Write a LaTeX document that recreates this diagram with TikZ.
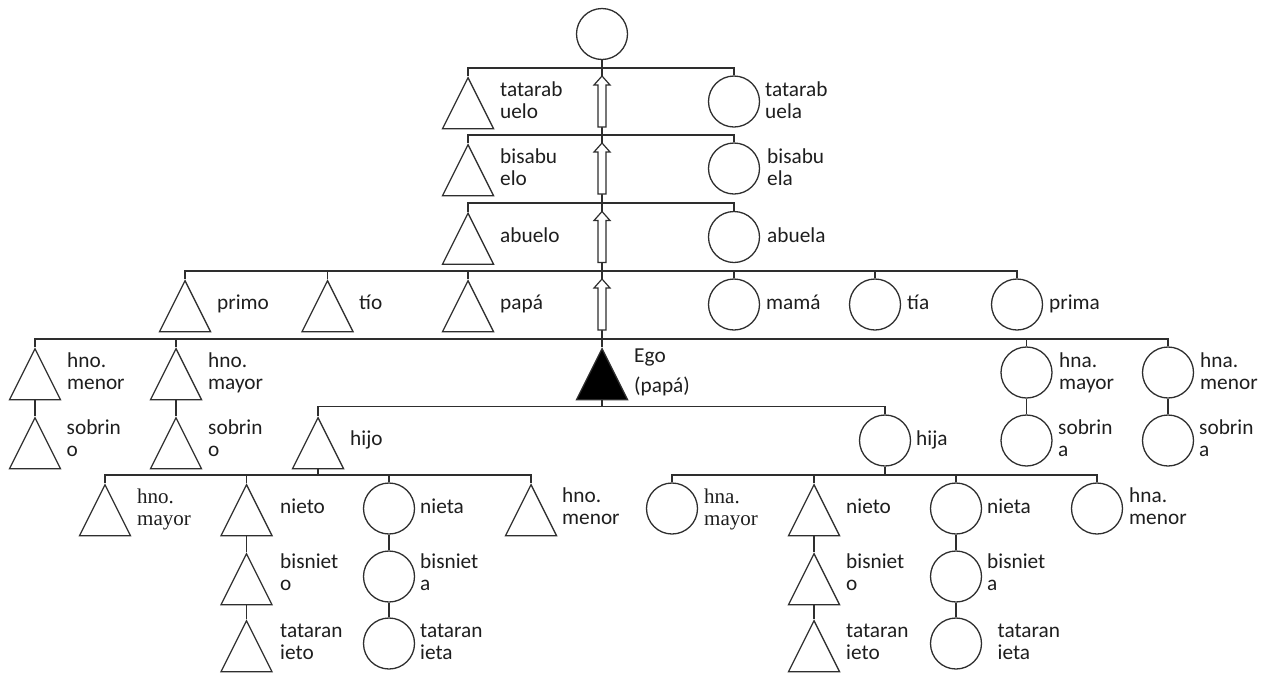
\documentclass[tikz,border=0pt]{standalone}
\usepackage{fontspec}
\setmainfont{Carlito}
\newfontfamily\tmsfont{Liberation Serif}
\usetikzlibrary{shapes.geometric,calc}
\definecolor{ln}{HTML}{2E2E2E}
\definecolor{txt}{HTML}{1E1E1E}
\newcommand{\twol}[2]{\begin{tabular}[t]{@{}l@{}}#1\\#2\end{tabular}}
\newcommand{\uparr}[2]{\draw[hollow] ($(#2)+(4,0)$) -- ($(#1)+(4,9)$) -- ($(#1)+(8,9)$) -- (#1) -- ($(#1)+(-8,9)$) -- ($(#1)+(-4,9)$) -- ($(#2)+(-4,0)$) -- cycle;}
\begin{document}
\begin{tikzpicture}[x=1pt,y=-1pt,
  tri/.style={isosceles triangle, isosceles triangle stretches, shape border rotate=90,
    draw=ln, line width=1.3pt, minimum width=51pt, minimum height=51pt, inner sep=0pt, anchor=apex},
  circ/.style={circle, draw=ln, line width=1.3pt, minimum size=51pt, inner sep=0pt},
  conn/.style={draw=ln, line width=1.3pt},
  hollow/.style={draw=ln, fill=white, line width=1.2pt, line join=miter},
  lab/.style={anchor=base west, inner sep=0pt, text=txt, font=\fontsize{21.3}{22}\selectfont},
  tlab/.style={lab, font=\tmsfont\fontsize{21}{22}\selectfont}]
\useasboundingbox (0,0) rectangle (1273,673);

% junction coordinates
\coordinate (j1) at (602,68);
\coordinate (j2) at (602,135);
\coordinate (j3) at (602,203);
\coordinate (j4) at (602,271);
\coordinate (j5) at (602,339);
\coordinate (j6) at (602,406.5);
\coordinate (j7) at (318,475);
\coordinate (j8) at (885,475);
\coordinate (a1t) at (602,76);   \coordinate (a1b) at (602,127);
\coordinate (a2t) at (602,143);  \coordinate (a2b) at (602,194);
\coordinate (a3t) at (602,211.5);\coordinate (a3b) at (602,262.5);
\coordinate (a4t) at (602,279);  \coordinate (a4b) at (602,330);

% people
\node[circ] (top) at (602,34) {};
\node[tri] (tatarabuelo) at (468,76) {};
\node[circ] (tatarabuela) at (734,101.5) {};
\node[tri] (bisabuelo) at (468,143) {};
\node[circ] (bisabuela) at (734,168.5) {};
\node[tri] (abuelo) at (468,211.5) {};
\node[circ] (abuela) at (734,237) {};
\node[tri] (primo) at (185,279) {};
\node[tri] (tio) at (327.5,279) {};
\node[tri] (papa) at (468,279) {};
\node[circ] (mama) at (734,304.5) {};
\node[circ] (tia) at (875,304.5) {};
\node[circ] (prima) at (1017,304.5) {};
\node[tri] (hnomenorL) at (35,347) {};
\node[tri] (hnomayorL) at (176,347) {};
\node[tri, fill=black] (ego) at (602,347) {};
\node[circ] (hnamayorR) at (1026.5,372.5) {};
\node[circ] (hnamenorR) at (1168,372.5) {};
\node[tri] (sobrinoL1) at (35,416) {};
\node[tri] (sobrinoL2) at (176,416) {};
\node[tri] (hijo) at (318,416) {};
\node[circ] (hija) at (885,440.5) {};
\node[circ] (sobrinaR1) at (1026.5,440.5) {};
\node[circ] (sobrinaR2) at (1168,440.5) {};
\node[tri] (hmayorH) at (105,483) {};
\node[tri] (nietoH) at (246.5,483) {};
\node[circ] (nietaH) at (389,508.5) {};
\node[tri] (hmenorH) at (531,483) {};
\node[tri] (bisnietoH) at (246.5,552) {};
\node[circ] (bisnietaH) at (389,576.5) {};
\node[tri] (tataranietoH) at (246.5,619) {};
\node[circ] (tataranietaH) at (389,643.5) {};
\node[circ] (hmayorJ) at (672,508.5) {};
\node[tri] (nietoJ) at (814,483) {};
\node[circ] (nietaJ) at (956,508.5) {};
\node[circ] (hmenorJ) at (1097,508.5) {};
\node[tri] (bisnietoJ) at (814,552) {};
\node[circ] (bisnietaJ) at (956,576.5) {};
\node[tri] (tataranietoJ) at (814,619) {};
\node[circ] (tataranietaJ) at (956,643.5) {};

% connectors: ascending line
\draw[conn] (top.south) -- (j1) -- (a1t);
\draw[conn] (a1b) -- (j2) -- (a2t);
\draw[conn] (a2b) -- (j3) -- (a3t);
\draw[conn] (a3b) -- (j4) -- (a4t);
\draw[conn] (a4b) -- (j5) -- (ego.apex);
\uparr{a1t}{a1b}
\uparr{a2t}{a2b}
\uparr{a3t}{a3b}
\uparr{a4t}{a4b}

% generation bars
\draw[conn] (tatarabuelo.apex) |- (j1) -| (tatarabuela.north);
\draw[conn] (bisabuelo.apex) |- (j2) -| (bisabuela.north);
\draw[conn] (abuelo.apex) |- (j3) -| (abuela.north);
\draw[conn] (primo.apex) |- (j4) -| (prima.north);
\draw[conn] (tio.apex) -- (tio.apex |- j4);
\draw[conn] (papa.apex) -- (papa.apex |- j4);
\draw[conn] (mama.north) -- (mama.north |- j4);
\draw[conn] (tia.north) -- (tia.north |- j4);
\draw[conn] (hnomenorL.apex) |- (j5) -| (hnamenorR.north);
\draw[conn] (hnomayorL.apex) -- (hnomayorL.apex |- j5);
\draw[conn] (hnamayorR.north) -- (hnamayorR.north |- j5);
\draw[conn] (hnomenorL.lower side) -- (sobrinoL1.apex);
\draw[conn] (hnomayorL.lower side) -- (sobrinoL2.apex);
\draw[conn] (hnamayorR.south) -- (sobrinaR1.north);
\draw[conn] (hnamenorR.south) -- (sobrinaR2.north);
\draw[conn] (ego.lower side) -- (j6);
\draw[conn] (hijo.apex) |- (j6) -| (hija.north);
\draw[conn] (hijo.lower side) -- (j7);
\draw[conn] (hmayorH.apex) |- (j7) -| (hmenorH.apex);
\draw[conn] (nietoH.apex) -- (nietoH.apex |- j7);
\draw[conn] (nietaH.north) -- (nietaH.north |- j7);
\draw[conn] (hija.south) -- (j8);
\draw[conn] (hmayorJ.north) |- (j8) -| (hmenorJ.north);
\draw[conn] (nietoJ.apex) -- (nietoJ.apex |- j8);
\draw[conn] (nietaJ.north) -- (nietaJ.north |- j8);
\draw[conn] (nietoH.lower side) -- (bisnietoH.apex);
\draw[conn] (bisnietoH.lower side) -- (tataranietoH.apex);
\draw[conn] (nietaH.south) -- (bisnietaH.north);
\draw[conn] (bisnietaH.south) -- (tataranietaH.north);
\draw[conn] (nietoJ.lower side) -- (bisnietoJ.apex);
\draw[conn] (bisnietoJ.lower side) -- (tataranietoJ.apex);
\draw[conn] (nietaJ.south) -- (bisnietaJ.north);
\draw[conn] (bisnietaJ.south) -- (tataranietaJ.north);

% labels
\node[lab] (l1) at (500,96) {\twol{tatarab}{uelo}};
\node[lab] (l2) at (765,96) {\twol{tatarab}{uela}};
\node[lab] (l3) at (500,163) {\twol{bisabu}{elo}};
\node[lab] (l4) at (767,163) {\twol{bisabu}{ela}};
\node[lab] (l5) at (500,242) {abuelo};
\node[lab] (l6) at (767,242) {abuela};
\node[lab] (l7) at (217,309) {primo};
\node[lab] (l8) at (359,309) {tío};
\node[lab] (l9) at (500,309) {papá};
\node[lab] (l10) at (766,309) {mamá};
\node[lab] (l11) at (907,309) {tía};
\node[lab] (l12) at (1049,309) {prima};
\node[lab] (l13) at (67,367) {\twol{hno.}{menor}};
\node[lab] (l14) at (208,367) {\twol{hno.}{mayor}};
\node[lab] (l15) at (634,362) {\begin{tabular}[t]{@{}l@{}}Ego\\[8pt](papá)\end{tabular}};
\node[lab] (l16) at (1059,367) {\twol{hna.}{mayor}};
\node[lab] (l17) at (1200,367) {\twol{hna.}{menor}};
\node[lab] (l18) at (66.5,434) {\twol{sobrin}{o}};
\node[lab] (l19) at (208,434) {\twol{sobrin}{o}};
\node[lab] (l20) at (350,445) {hijo};
\node[lab] (l21) at (916,445) {hija};
\node[lab] (l22) at (1058,434) {\twol{sobrin}{a}};
\node[lab] (l23) at (1199,434) {\twol{sobrin}{a}};
\node[tlab] (l24) at (137,503) {\twol{hno.}{mayor}};
\node[lab] (l25) at (280,513) {nieto};
\node[lab] (l26) at (420,513) {nieta};
\node[lab] (l27) at (562,502) {\twol{hno.}{menor}};
\node[lab] (l28) at (280,568) {\twol{bisniet}{o}};
\node[lab] (l29) at (420,568) {\twol{bisniet}{a}};
\node[lab] (l30) at (280,637) {\twol{tataran}{ieto}};
\node[lab] (l31) at (420,637) {\twol{tataran}{ieta}};
\node[tlab] (l32) at (704,503) {\twol{hna.}{mayor}};
\node[lab] (l33) at (846,513) {nieto};
\node[lab] (l34) at (987,513) {nieta};
\node[lab] (l35) at (1129,502) {\twol{hna.}{menor}};
\node[lab] (l36) at (846,568) {\twol{bisniet}{o}};
\node[lab] (l37) at (987,568) {\twol{bisniet}{a}};
\node[lab] (l38) at (846,637) {\twol{tataran}{ieto}};
\node[lab] (l39) at (997.5,637) {\twol{tataran}{ieta}};
\end{tikzpicture}
\end{document}
